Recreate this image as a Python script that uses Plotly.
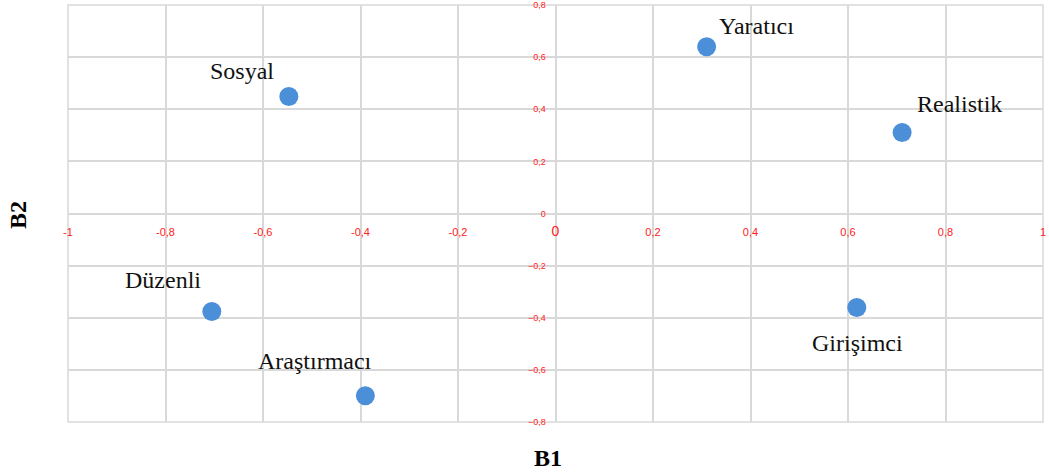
import plotly.graph_objects as go

names = ["Yaratıcı", "Realistik", "Sosyal", "Düzenli", "Araştırmacı", "Girişimci"]
b1 = [0.31, 0.711, -0.547, -0.705, -0.39, 0.618]
b2 = [0.64, 0.311, 0.449, -0.376, -0.699, -0.361]
x_ticks = [-1, -0.8, -0.6, -0.4, -0.2, 0, 0.2, 0.4, 0.6, 0.8, 1]
x_tick_labels = ["-1", "-0,8", "-0,6", "-0,4", "-0,2", "<span style='font-size:14px'>0</span>",
                 "0,2", "0,4", "0,6", "0,8", "1"]
y_ticks = [-0.8, -0.6, -0.4, -0.2, 0, 0.2, 0.4, 0.6, 0.8]

# label offsets in pixels (x, y)
offsets = [(50, 21), (57, 28), (-47, 25), (-49, 32), (-50, 35), (1, -35)]

grid = "#d9d9d9"
red = "#ff2020"
serif = "Liberation Serif, Times New Roman, serif"

fig = go.Figure()
fig.add_trace(go.Scatter(
    x=b1, y=b2, mode="markers",
    marker=dict(size=19, color="#4a8fd8", line=dict(width=0)),
    hoverinfo="text", text=names, showlegend=False,
))

for n, xv, yv, (dx, dy) in zip(names, b1, b2, offsets):
    fig.add_annotation(x=xv, y=yv, text=n, showarrow=False, xshift=dx, yshift=dy,
                       xanchor="center", yanchor="middle",
                       font=dict(family=serif, size=24, color="#111111"))

fig.add_annotation(xref="paper", yref="paper", x=(548 - 68) / 975, y=(422 - 458) / 417,
                   text="<b>B1</b>", showarrow=False, xanchor="center", yanchor="middle",
                   font=dict(family=serif, size=24, color="#000000"))
fig.add_annotation(xref="paper", yref="paper", x=(18 - 68) / 975, y=(422 - 215) / 417,
                   text="<b>B2</b>", showarrow=False, textangle=-90,
                   xanchor="center", yanchor="middle",
                   font=dict(family=serif, size=24, color="#000000"))

fig.add_shape(type="rect", xref="paper", yref="paper", x0=0, y0=0, x1=1, y1=1,
              line=dict(color=grid, width=1.5), layer="below")

fig.update_layout(
    width=1049, height=475,
    margin=dict(l=68, r=6, t=5, b=53, autoexpand=False),
    paper_bgcolor="white", plot_bgcolor="white",
    separators=",.",
    xaxis=dict(range=[-1, 1], tickvals=x_ticks, ticktext=x_tick_labels,
               anchor="free", position=0.5, automargin=False,
               showgrid=True, gridcolor=grid, gridwidth=1.5,
               zeroline=True, zerolinecolor=grid, zerolinewidth=1.5,
               showline=False, ticks="outside", ticklen=8, tickcolor="rgba(0,0,0,0)",
               tickfont=dict(family="Liberation Sans", size=11, color=red),
               fixedrange=True),
    yaxis=dict(range=[-0.8, 0.8], tickvals=y_ticks, anchor="free", position=0.5,
               automargin=False,
               showgrid=True, gridcolor=grid, gridwidth=1.5,
               zeroline=True, zerolinecolor=grid, zerolinewidth=1.5,
               showline=False, ticks="outside", ticklen=8, tickcolor="rgba(0,0,0,0)",
               tickfont=dict(family="Liberation Sans", size=9, color=red),
               fixedrange=True),
)

fig.write_html("out.html", config={"displayModeBar": False},
               post_script="document.body.style.margin='0';document.body.style.overflow='hidden';")
